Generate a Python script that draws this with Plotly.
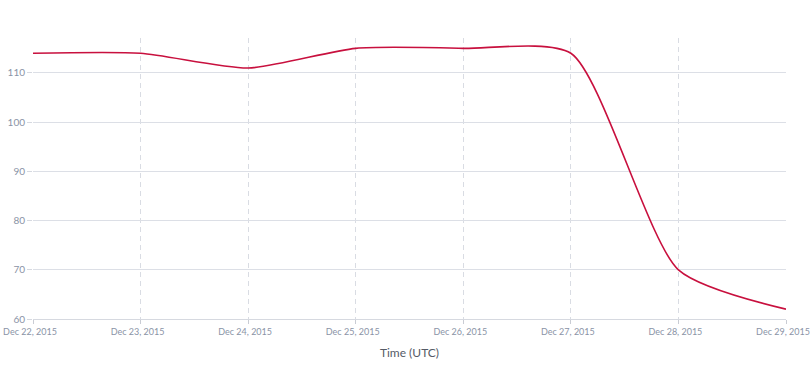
import plotly.graph_objects as go

dates = ["2015-12-22", "2015-12-23", "2015-12-24", "2015-12-25",
         "2015-12-26", "2015-12-27", "2015-12-28", "2015-12-29"]
values = [114, 114, 111, 115, 115, 114, 70, 62]
y_ticks = [60, 70, 80, 90, 100, 110]

fig = go.Figure()
fig.add_trace(go.Scatter(
    x=dates, y=values, mode="lines",
    line=dict(color="#c8103e", width=1.6, shape="spline", smoothing=0.65),
    hoverinfo="x+y", showlegend=False,
))

x_tick_font = dict(family="Lato, sans-serif", size=9, color="#8a93a6")
y_tick_font = dict(family="Lato, sans-serif", size=10, color="#8a93a6")
fig.update_layout(
    width=811, height=367,
    margin=dict(l=33, r=25, t=38, b=48),
    paper_bgcolor="white", plot_bgcolor="white",
    xaxis=dict(
        type="date", range=["2015-12-22", "2015-12-29"], automargin=False,
        tickformat="%b %d, %Y", dtick=86400000, tick0="2015-12-22",
        tickfont=x_tick_font, ticks="outside", ticklen=4, tickcolor="#c9ccd4",
        ticklabeloverflow="allow", ticklabelshift=-3,
        showgrid=True, gridcolor="#d9dce3", griddash="5px,4px", gridwidth=1,
        showline=True, linecolor="#d6d9e0", linewidth=1,
        zeroline=False,
        title=dict(text="Time (UTC)", font=dict(family="Lato, sans-serif", size=12, color="#555b66"), standoff=12),
    ),
    yaxis=dict(
        range=[60, 117.1], tickvals=y_ticks, automargin=False,
        tickfont=y_tick_font, ticks="outside", ticklen=5, tickcolor="#d6d9e0",
        showgrid=True, gridcolor="#dcdfe6", gridwidth=1,
        zeroline=False, showline=False,
    ),
)

fig.write_html("out.html", config={"displayModeBar": False},
               post_script="document.body.style.margin='0';")
